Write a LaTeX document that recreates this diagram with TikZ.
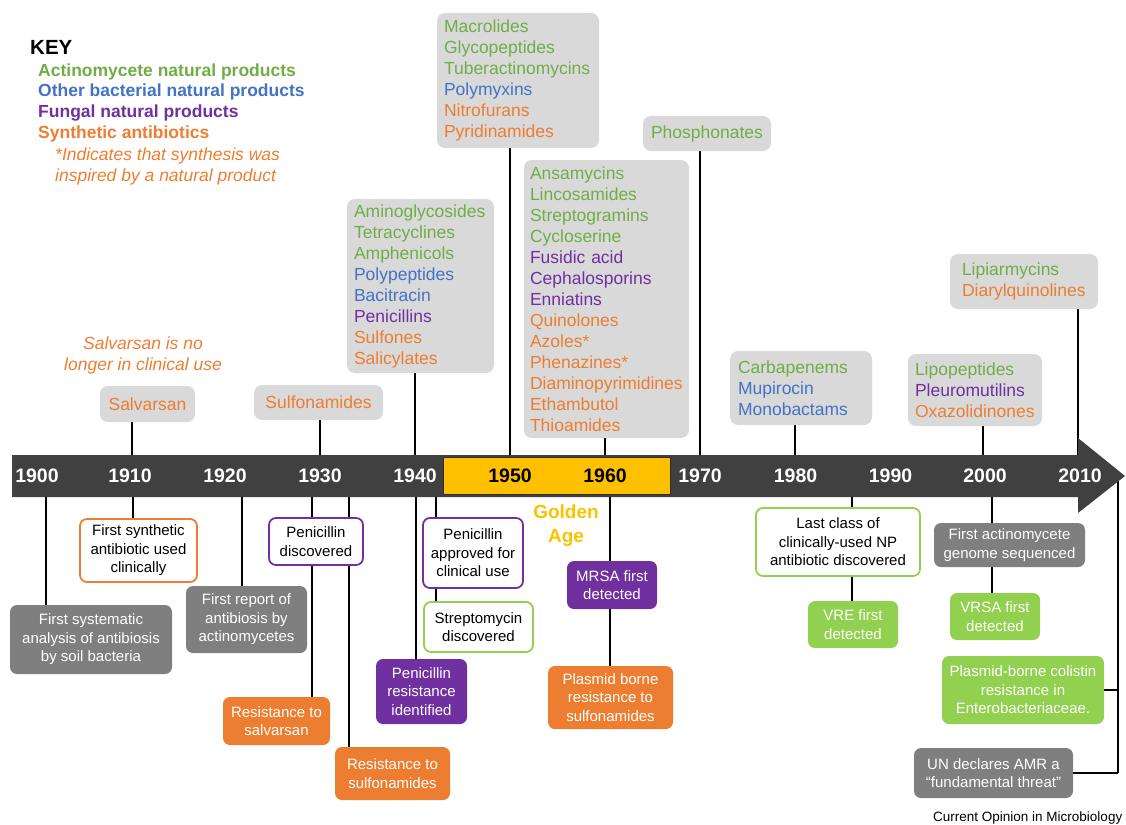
\documentclass[tikz,border=0pt]{standalone}
\usepackage{fontspec}
\setmainfont{Liberation Sans}
\usetikzlibrary{backgrounds}
\definecolor{actg}{HTML}{70AD47}
\definecolor{othb}{HTML}{4472C4}
\definecolor{fungp}{HTML}{7030A0}
\definecolor{syno}{HTML}{ED7D31}
\definecolor{boxgrey}{HTML}{D9D9D9}
\definecolor{darkgrey}{HTML}{7F7F7F}
\definecolor{limeg}{HTML}{92D050}
\definecolor{barcol}{HTML}{404040}
\definecolor{gold}{HTML}{FFC000}
\newcommand\ACT[1]{\textcolor{actg}{#1}}
\newcommand\OTH[1]{\textcolor{othb}{#1}}
\newcommand\FUN[1]{\textcolor{fungp}{#1}}
\newcommand\SYN[1]{\textcolor{syno}{#1}}
\begin{document}
\begin{tikzpicture}[x=1pt,y=-1pt,
  topbox/.style={fill=boxgrey, rounded corners=8pt, inner ysep=0pt, align=left,
    font=\fontsize{17.5}{21}\selectfont},
  topsingle/.style={fill=boxgrey, rounded corners=8pt, inner sep=0pt, align=center,
    font=\fontsize{17.5}{21}\selectfont},
  botbox/.style={rounded corners=7pt, align=center, inner sep=1pt,
    font=\fontsize{15}{18.5}\selectfont},
  outl/.style={botbox, draw=#1, line width=1.8pt, fill=white, text=black},
  filled/.style={botbox, fill=#1, text=white},
  conn/.style={line width=1.8pt, black},
  yr/.style={text=white, font=\bfseries\fontsize{19.5}{22}\selectfont, inner sep=0pt},
  keyline/.style={anchor=west, inner sep=0pt, font=\bfseries\fontsize{17.5}{21}\selectfont},
  note/.style={inner sep=0pt, font=\itshape\fontsize{17.5}{21}\selectfont, text=syno}
]
\useasboundingbox (0,0) rectangle (1126,824);

% ---- key ----
\node[keyline, font=\bfseries\fontsize{20.5}{24}\selectfont] (key) at (30,47) {KEY};
\node[keyline, text=actg] (k1) at (38,72) {Actinomycete natural products};
\node[keyline, text=othb] (k2) at (38,92) {Other bacterial natural products};
\node[keyline, text=fungp] (k3) at (38,113) {Fungal natural products};
\node[keyline, text=syno] (k4) at (38,134) {Synthetic antibiotics};
\node[note, anchor=north west, align=left] (k5) at (55,148) {*Indicates that synthesis was\\inspired by a natural product};
\node[note, align=center] (salvnote) at (143,355) {Salvarsan is no\\longer in clinical use};

% ---- top boxes ----
\node[topsingle, minimum width=95pt, minimum height=36pt] (salv) at (147.5,404) {\SYN{Salvarsan}};
\node[topsingle, minimum width=129pt, minimum height=35pt] (sulfa) at (318.5,402.5) {\SYN{Sulfonamides}};
\node[topbox, inner xsep=7pt, text width=133pt, minimum height=174pt] (amino) at (420.5,286)
  {\ACT{Aminoglycosides}\\\ACT{Tetracyclines}\\\ACT{Amphenicols}\\\OTH{Polypeptides}\\\OTH{Bacitracin}\\\FUN{Penicillins}\\\SYN{Sulfones}\\\SYN{Salicylates}};
\node[topbox, inner xsep=7pt, text width=148pt, minimum height=135pt] (macro) at (518,80.5)
  {\ACT{Macrolides}\\\ACT{Glycopeptides}\\\ACT{Tuberactinomycins}\\\OTH{Polymyxins}\\\SYN{Nitrofurans}\\\SYN{Pyridinamides}};
\node[topbox, inner xsep=6pt, text width=153pt, minimum height=278pt] (ansa) at (606.5,299)
  {\ACT{Ansamycins}\\\ACT{Lincosamides}\\\ACT{Streptogramins}\\\ACT{Cycloserine}\\\FUN{Fusidic acid}\\\FUN{Cephalosporins}\\\FUN{Enniatins}\\\SYN{Quinolones}\\\SYN{Azoles*}\\\SYN{Phenazines*}\\\SYN{Diaminopyrimidines}\\\SYN{Ethambutol}\\\SYN{Thioamides}};
\node[topsingle, minimum width=128pt, minimum height=35pt] (phos) at (707,133.5) {\ACT{Phosphonates}};
\node[topbox, inner xsep=8pt, text width=126pt, minimum height=74pt] (carba) at (801,388)
  {\ACT{Carbapenems}\\\OTH{Mupirocin}\\\OTH{Monobactams}};
\node[topbox, inner xsep=7pt, text width=120pt, minimum height=72pt] (lipo) at (975,390)
  {\ACT{Lipopeptides}\\\FUN{Pleuromutilins}\\\SYN{Oxazolidinones}};
\node[topbox, inner xsep=12pt, text width=124pt, minimum height=55pt] (lipia) at (1024,281.5)
  {\ACT{Lipiarmycins}\\\SYN{Diarylquinolines}};

% ---- bottom boxes ----
\node[outl=syno, minimum width=117pt, minimum height=63pt] (fsyn) at (138.5,550.5) {First synthetic\\antibiotic used\\clinically};
\node[filled=darkgrey, minimum width=162pt, minimum height=69pt] (fsys) at (91,639.5) {First systematic\\analysis of antibiosis\\by soil bacteria};
\node[filled=darkgrey, minimum width=121pt, minimum height=67pt] (frep) at (246.5,619.5) {First report of\\antibiosis by\\actinomycetes};
\node[outl=fungp, minimum width=94pt, minimum height=47pt] (pdis) at (316,541.5) {Penicillin\\discovered};
\node[filled=syno, minimum width=107pt, minimum height=48pt] (rsalv) at (276.5,721) {Resistance to\\salvarsan};
\node[filled=syno, minimum width=115pt, minimum height=53pt] (rsulf) at (392.5,773.5) {Resistance to\\sulfonamides};
\node[filled=fungp, minimum width=91pt, minimum height=65pt] (pres) at (421.5,691.5) {Penicillin\\resistance\\identified};
\node[outl=fungp, minimum width=100pt, minimum height=70pt] (papp) at (473,553) {Penicillin\\approved for\\clinical use};
\node[outl=limeg, minimum width=109pt, minimum height=50pt] (strep) at (478.5,627) {Streptomycin\\discovered};
\node[filled=fungp, minimum width=90pt, minimum height=48pt] (mrsa) at (612,585) {MRSA first\\detected};
\node[filled=syno, minimum width=125pt, minimum height=63pt] (plas) at (610.5,697.5) {Plasmid borne\\resistance to\\sulfonamides};
\node[outl=limeg, minimum width=164pt, minimum height=68pt] (last) at (838,542) {Last class of\\clinically-used NP\\antibiotic discovered};
\node[filled=limeg, minimum width=90pt, minimum height=47pt] (vre) at (853,624.5) {VRE first\\detected};
\node[filled=darkgrey, minimum width=151pt, minimum height=44pt] (fact) at (1009.5,545) {First actinomycete\\genome sequenced};
\node[filled=limeg, minimum width=90pt, minimum height=47pt] (vrsa) at (995,616.5) {VRSA first\\detected};
\node[filled=limeg, minimum width=162pt, minimum height=68pt] (colis) at (1023,690) {Plasmid-borne colistin\\resistance in\\Enterobacteriaceae.};
\node[filled=darkgrey, minimum width=159pt, minimum height=50pt] (un) at (993.5,773) {UN declares AMR a\\``fundamental threat''};

\node[anchor=west, inner sep=0pt, font=\fontsize{13.5}{16}\selectfont] (credit) at (933,818) {Current Opinion in Microbiology};

% ---- connector coordinates ----
\coordinate (lsalv) at (132,455);
\coordinate (lsulfa) at (320,455);
\coordinate (lamino) at (415,455);
\coordinate (lmacro) at (510,455);
\coordinate (lansa) at (605,455);
\coordinate (lphos) at (700,455);
\coordinate (lcarba) at (795,455);
\coordinate (llipo) at (983,455);
\coordinate (llipia) at (1078,455);
\coordinate (bfsys) at (46,497);
\coordinate (bfsyn) at (133,497);
\coordinate (bfrep) at (242,497);
\coordinate (brsalv) at (312,497);
\coordinate (brsulf) at (349,497);
\coordinate (bpres) at (416,497);
\coordinate (bpapp) at (436,497);
\coordinate (bmrsa) at (610,497);
\coordinate (blast) at (852,497);
\coordinate (bfact) at (992,497);
\coordinate (rtop) at (1118,476);
\coordinate (rbot) at (1118,773);

\begin{scope}[on background layer]
  \draw[conn] (lsalv |- salv.south) -- (lsalv);
  \draw[conn] (lsulfa |- sulfa.south) -- (lsulfa);
  \draw[conn] (lamino |- amino.south) -- (lamino);
  \draw[conn] (lmacro |- macro.south) -- (lmacro);
  \draw[conn] (lansa |- ansa.south) -- (lansa);
  \draw[conn] (lphos |- phos.south) -- (lphos);
  \draw[conn] (lcarba |- carba.south) -- (lcarba);
  \draw[conn] (llipo |- lipo.south) -- (llipo);
  \draw[conn] (llipia |- lipia.south) -- (llipia);
  \draw[conn] (bfsys) -- (bfsys |- fsys.north);
  \draw[conn] (bfsyn) -- (bfsyn |- fsyn.north);
  \draw[conn] (bfrep) -- (bfrep |- frep.north);
  \draw[conn] (brsalv) -- (brsalv |- rsalv.north);
  \draw[conn] (brsulf) -- (brsulf |- rsulf.north);
  \draw[conn] (bpres) -- (bpres |- pres.north);
  \draw[conn] (bpapp) -- (bpapp |- strep.north);
  \draw[conn] (bmrsa) -- (bmrsa |- plas.north);
  \draw[conn] (blast) -- (blast |- vre.north);
  \draw[conn] (bfact) -- (bfact |- vrsa.north);
  \draw[conn] (rtop) -- (rbot);
  \draw[conn] (colis.east) -- (colis.east -| rtop);
  \draw[conn] (un.east) -- (un.east -| rtop);
\end{scope}

% ---- timeline bar ----
\fill[barcol] (12,455) -- (1078,455) -- (1078,438) -- (1125,476) -- (1078,513) -- (1078,497) -- (12,497) -- cycle;
\draw[fill=gold, draw=barcol!70!black, line width=0.6pt] (443,457) rectangle (670,494);

\node[yr] (y1900) at (37,476) {1900};
\node[yr] (y1910) at (130,476) {1910};
\node[yr] (y1920) at (225,476) {1920};
\node[yr] (y1930) at (320,476) {1930};
\node[yr] (y1940) at (415,476) {1940};
\node[yr, text=black] (y1950) at (510,476) {1950};
\node[yr, text=black] (y1960) at (605,476) {1960};
\node[yr] (y1970) at (700,476) {1970};
\node[yr] (y1980) at (795.5,476) {1980};
\node[yr] (y1990) at (890.5,476) {1990};
\node[yr] (y2000) at (985,476) {2000};
\node[yr] (y2010) at (1080,476) {2010};

\node[align=center, inner sep=0pt, text=gold, font=\bfseries\fontsize{19}{24}\selectfont] (golden) at (566,526) {Golden\\Age};
\end{tikzpicture}
\end{document}
